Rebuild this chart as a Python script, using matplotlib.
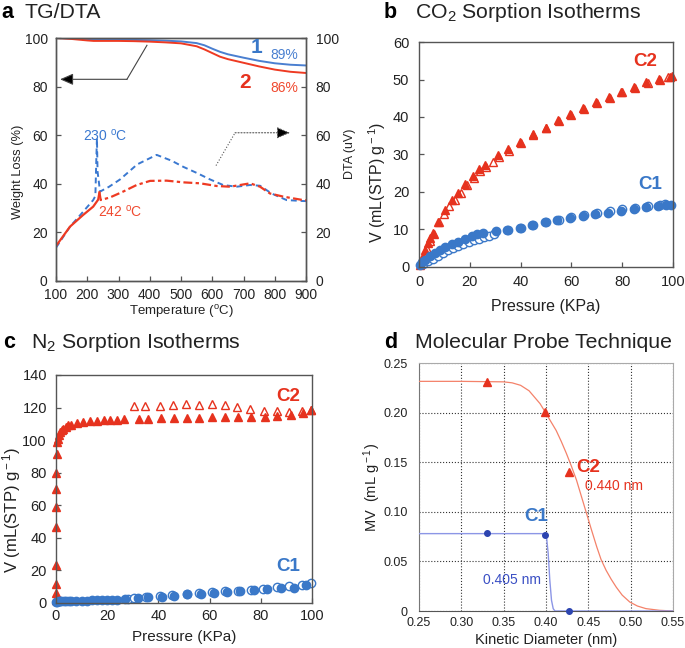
import matplotlib
matplotlib.use("Agg")
import matplotlib.pyplot as plt
import numpy as np

plt.rcParams['font.family'] = ['Liberation Sans', 'DejaVu Sans']
plt.rcParams['mathtext.fontset'] = 'custom'
plt.rcParams['mathtext.rm'] = 'Liberation Sans'
plt.rcParams['mathtext.it'] = 'Liberation Sans:italic'
plt.rcParams['mathtext.bf'] = 'Liberation Sans:bold'

# ---------------- Panel a: TG/DTA ----------------
tg_temp = [100, 150, 200, 220, 250, 300, 350, 400, 450, 500, 550, 575, 600, 625, 650, 700, 750, 800, 850, 900]
tg_1 = [100, 99.8, 99.6, 99.5, 99.4, 99.3, 99.2, 99.1, 98.9, 98.6, 97.9, 97.0, 95.6, 94.3, 93.3, 91.9, 90.6, 89.6, 89.0, 88.7]
tg_2 = [100, 99.6, 99.0, 98.8, 98.8, 98.8, 98.7, 98.5, 98.2, 97.8, 96.6, 95.3, 93.8, 92.3, 91.3, 89.8, 88.3, 87.0, 86.1, 85.6]

dta1_temp = [100, 145, 180, 219, 226, 229, 231, 233, 241, 270, 305, 360, 422, 470, 507, 550, 593, 635, 678, 721, 753, 790, 838, 891, 900]
dta1_val = [13.7, 22.4, 27.5, 33.3, 35, 50, 58.7, 45, 36.8, 38.8, 41.8, 48, 51.9, 49.5, 47, 44.5, 41.8, 39.5, 38.8, 39.5, 39.2, 36, 33.3, 32.9, 32.9]

dta2_temp_solid = [100, 145, 187, 219, 235, 239]
dta2_val_solid = [14.4, 22.4, 27.2, 30.6, 33.5, 36.5]
dta2_temp_dash = [239, 243, 273, 315, 358, 401, 454, 507, 561, 614, 657, 689, 721, 753, 785, 828, 891, 900]
dta2_val_dash = [36.5, 33.3, 34.4, 36.8, 39.5, 41.2, 41.3, 40.6, 40.2, 39.1, 38.8, 39.5, 40.2, 38.8, 36, 34.7, 33.3, 33.2]

# ---------------- Panel b: CO2 ----------------
co2_c2_ads_p = [0.3, 0.8, 1.7, 2.4, 3.4, 4.3, 5.6, 7.4, 10.2, 12.8, 15.5, 18.2, 21.2, 23.5, 26, 31.2, 35, 39.7, 44.7, 49.9, 54.8, 59.4, 64.6, 69.6, 74.8, 79.7, 84.5, 89.5, 94.4, 98.7, 99.8]
co2_c2_ads_v = [0.5, 1.2, 2.8, 4.5, 6.3, 7.6, 9.0, 12.1, 15.2, 17.8, 19.8, 22.0, 24.3, 26.0, 27.3, 29.8, 31.4, 33.3, 35.5, 37.1, 39.2, 40.8, 42.3, 43.9, 45.3, 46.8, 48.0, 49.2, 50.1, 50.6, 50.9]
co2_c2_des_p = [1.5, 3, 4.5, 6, 8, 10, 12, 14, 16.5, 19, 21.5, 24, 26.5, 29, 31.5, 35.5, 40, 45, 50, 55, 60, 65, 70, 75, 80, 85, 90, 95, 98]
co2_c2_des_v = [1.6, 4.7, 7.0, 8.9, 12.0, 14.2, 16.2, 17.9, 19.7, 21.8, 23.7, 25.5, 26.7, 27.9, 29.2, 30.8, 33.0, 35.3, 37.0, 39.0, 40.5, 42.2, 43.7, 45.1, 46.6, 47.8, 49.0, 50.0, 50.6]
co2_c1_ads_p = [0.3, 1.2, 2.4, 4.3, 6.3, 8.3, 10.2, 12.8, 15.5, 18, 20.7, 22.7, 25.3, 30.5, 34.5, 39.7, 44.3, 49.5, 54.4, 59.4, 64.4, 69.2, 74.4, 79.4, 84.5, 89.3, 94.1, 97.4, 99.3]
co2_c1_ads_v = [0.4, 1.2, 1.9, 2.8, 3.6, 4.5, 5.2, 6.0, 6.7, 7.5, 8.2, 8.7, 9.1, 9.5, 9.9, 10.3, 11.1, 11.9, 12.4, 13.0, 13.5, 14.0, 14.5, 14.9, 15.5, 15.9, 16.3, 16.4, 16.5]
co2_c1_des_p = [1.5, 3.5, 5.5, 7.5, 9.5, 11.5, 13.5, 15.5, 17.5, 19.5, 21.5, 23.5, 25.5, 27.5, 29.5, 35, 40, 45, 50, 55, 60, 65, 70, 75, 80, 85, 90, 95, 97]
co2_c1_des_v = [0.7, 1.5, 2.2, 3.0, 3.8, 4.5, 5.1, 5.7, 6.2, 6.7, 7.1, 7.5, 7.9, 8.3, 8.7, 9.8, 10.4, 11.3, 12.1, 12.6, 13.3, 13.8, 14.3, 14.8, 15.5, 15.8, 16.3, 16.6, 16.7]

# ---------------- Panel c: N2 ----------------
n2_c2_ads_p = [0, 0, 0, 0, 0, 0, 0, 0, 0.2, 0.4, 0.7, 1.1, 1.6, 2.2, 2.9, 3.8, 4.8, 6.0, 8.1, 10.7, 13.3, 16, 18.6, 21.2, 23.8, 26.7, 32.3, 35.8, 41, 46, 51, 56, 61, 66, 71, 76, 81.7, 86.5, 91.7, 96.6, 99.6]
n2_c2_ads_v = [2, 5.9, 11.7, 23.3, 46.9, 58.7, 70.2, 79.6, 91.5, 99, 101, 103, 105, 106, 107, 108, 109, 109.5, 110.7, 111.1, 111.5, 112, 112.4, 112.6, 112.6, 112.8, 112.8, 113.2, 113.4, 113.6, 113.8, 113.8, 114, 114.4, 114.4, 114.4, 114.4, 114.8, 115.4, 116.9, 118.5]
n2_c2_des_p = [30.6, 34.9, 40.8, 45.8, 50.6, 55.8, 60.8, 66, 70.8, 75.7, 81.3, 86.5, 91.1, 96, 99.6]
n2_c2_des_v = [121, 121, 121, 121.6, 122.2, 121.6, 122.2, 121.6, 120.6, 118.9, 118.1, 118.1, 117.5, 118.1, 118.5]
n2_c1_ads_p = [0, 0.5, 1, 1.5, 2, 3, 4, 5, 6, 8, 10, 12, 14, 16, 18, 20, 22, 24, 27, 32, 36, 41.4, 46, 51, 56.5, 61.7, 66.9, 72, 77.5, 82.5, 87.8, 93, 97.6]
n2_c1_ads_v = [0.5, 0.8, 1, 1, 1.1, 1.2, 1.2, 1.3, 1.3, 1.4, 1.5, 1.5, 1.6, 1.7, 1.8, 1.9, 2, 2.1, 2.3, 2.9, 3.6, 3.9, 4.6, 5.3, 5.3, 6.3, 6.7, 7.2, 7.8, 8.4, 9.4, 9.4, 11]
n2_c1_des_p = [28, 30.3, 35, 40.5, 45.5, 51, 56, 61, 66, 71, 76, 81, 86.5, 91, 96, 99.5]
n2_c1_des_v = [2.2, 2.9, 3.6, 4.3, 5.1, 5.6, 6.3, 6.9, 7.1, 7.6, 8.0, 8.8, 9.6, 10.2, 10.9, 12.0]

# ---------------- Panel d: molecular probe ----------------
probe_d = [0.33, 0.399, 0.427]
probe_c2 = [0.231, 0.2006, 0.140]
probe_c1 = [0.0786, 0.0763, 0.0]
fit_c2_x = [0.25, 0.30, 0.35, 0.36, 0.37, 0.38, 0.385, 0.393, 0.399, 0.405, 0.412, 0.418, 0.424, 0.43, 0.436, 0.442, 0.448, 0.454, 0.46, 0.465, 0.471, 0.477, 0.483, 0.49, 0.499, 0.508, 0.518, 0.534, 0.55]
fit_c2_y = [0.2315, 0.2315, 0.231, 0.230, 0.2275, 0.222, 0.217, 0.209, 0.2006, 0.192, 0.182, 0.171, 0.159, 0.146, 0.132, 0.115, 0.098, 0.081, 0.0645, 0.052, 0.041, 0.032, 0.024, 0.016, 0.009, 0.005, 0.0024, 0.0007, 0.0]
fit_c1_x = [0.25, 0.399, 0.4006, 0.4026, 0.4045, 0.4065, 0.4085, 0.4105, 0.55]
fit_c1_y = [0.078, 0.078, 0.0746, 0.0578, 0.031, 0.0108, 0.0024, 0.0, 0.0]

BLUE = '#3a78c8'
RED = '#e6321e'
TXT = '#222222'
SPINE = '#555555'

fig = plt.figure(figsize=(6.85, 6.48), dpi=100)
W, H = 685.0, 648.0

def box(x0, x1, y0, y1):
    return [x0 / W, 1 - y1 / H, (x1 - x0) / W, (y1 - y0) / H]

def style(ax, fs=10, xpad=5, ypad=6):
    for s in ax.spines.values():
        s.set_color(SPINE)
        s.set_linewidth(1.0)
    ax.tick_params(direction='in', length=3.5, width=0.9, color=SPINE, labelsize=fs, labelcolor=TXT)
    ax.tick_params(axis='x', pad=xpad)
    ax.tick_params(axis='y', pad=ypad)

def place_xlabel(ax, y_px):
    ax.xaxis.label.set_va('center')
    bb = ax.get_position()
    ax.xaxis.set_label_coords(bb.x0 + bb.width / 2, 1 - y_px / H, transform=fig.transFigure)

def place_ylabel(ax, x_px, y_px):
    ax.yaxis.label.set_va('center')
    ax.yaxis.label.set_ha('center')
    ax.yaxis.set_label_coords(x_px / W, 1 - y_px / H, transform=fig.transFigure)

# ---- a ----
ax = fig.add_axes(box(56, 306, 38, 281))
style(ax, fs=10)
ax.plot(tg_temp, tg_1, color='#4a7fd0', lw=1.4)
ax.plot(tg_temp, tg_2, color='#ee3a22', lw=1.4)
ax.set_xlim(100, 900)
ax.set_ylim(0, 100)
ax.set_xticks(range(100, 901, 100))
ax.set_yticks(range(0, 101, 20))
ax.set_xlabel('Temperature ($^{\\rm o}$C)', fontsize=9.5, color=TXT)
ax.set_ylabel('Weight Loss (%)', fontsize=9.3, color=TXT)
place_xlabel(ax, 312)
place_ylabel(ax, 18, 172)
ax2 = ax.twinx()
style(ax2, fs=10, ypad=7)
ax2.plot(dta1_temp, dta1_val, color='#3a78d0', lw=1.4, ls=(0, (3, 2)))
ax2.plot(dta2_temp_solid, dta2_val_solid, color='#ee3a22', lw=1.6)
ax2.plot(dta2_temp_dash, dta2_val_dash, color='#ee3a22', lw=1.6, ls=(0, (4, 1.5, 1.5, 1.5)))
ax2.set_ylim(0, 100)
ax2.set_yticks(range(0, 101, 20))
ax2.set_ylabel('DTA (uV)', fontsize=9, color=TXT)
place_ylabel(ax2, 350, 154)
ax2.text(743, 96, '1', color=BLUE, fontsize=15, fontweight='bold', ha='center', va='center')
ax2.text(785, 93, '89%', color='#4a80d0', fontsize=10, ha='left', va='center')
ax2.text(705, 81.5, '2', color=RED, fontsize=15, fontweight='bold', ha='center', va='center')
ax2.text(787, 79.5, '86%', color='#f04a30', fontsize=10, ha='left', va='center')
ax2.text(186, 60, '230 $^{\\rm o}$C', color='#3a78d0', fontsize=10, ha='left', va='center')
ax2.text(234, 28.5, '242 $^{\\rm o}$C', color='#f04a30', fontsize=10, ha='left', va='center')
# arrows
arrow_left = [(391, 97), (327, 83), (113, 83)]
ax2.plot([arrow_left[0][0], arrow_left[1][0]], [arrow_left[0][1], arrow_left[1][1]], color='#444444', lw=0.8)
ax2.annotate('', xy=arrow_left[2], xytext=arrow_left[1],
             arrowprops=dict(arrowstyle='-|>,head_length=0.8,head_width=0.35', color='#444444', lw=0.8, fc='black', shrinkA=0, shrinkB=0))
arrow_right = [(612, 47.5), (673, 61), (849, 61)]
ax2.plot([arrow_right[0][0], arrow_right[1][0]], [arrow_right[0][1], arrow_right[1][1]], color='#555555', lw=0.8, ls=':')
ax2.annotate('', xy=arrow_right[2], xytext=arrow_right[1],
             arrowprops=dict(arrowstyle='-|>,head_length=0.8,head_width=0.35', color='#555555', lw=0.8, ls=':', fc='black', shrinkA=0, shrinkB=0))

# ---- b ----
bx = fig.add_axes(box(419, 673, 42, 267))
style(bx, fs=10.5, xpad=5.5, ypad=7)
bx.plot(co2_c2_des_p, co2_c2_des_v, ls='none', marker='^', ms=6, mfc='white', mec=RED, mew=1.0, clip_on=False)
bx.plot(co2_c2_ads_p, co2_c2_ads_v, ls='none', marker='^', ms=6, color=RED, clip_on=False)
bx.plot(co2_c1_des_p, co2_c1_des_v, ls='none', marker='o', ms=6, mfc='white', mec=BLUE, mew=1.0, clip_on=False)
bx.plot(co2_c1_ads_p, co2_c1_ads_v, ls='none', marker='o', ms=6, color=BLUE, clip_on=False)
bx.set_xlim(0, 100)
bx.set_ylim(0, 60)
bx.set_xticks(range(0, 101, 20))
bx.set_yticks(range(0, 61, 10))
bx.set_xlabel('Pressure (KPa)', fontsize=11.5, color=TXT)
bx.set_ylabel('V (mL(STP) g$^{\\rm -1}$)', fontsize=11.5, color=TXT)
place_xlabel(bx, 307)
place_ylabel(bx, 377, 182)
bx.text(89, 54.7, 'C2', color=RED, fontsize=13.5, fontweight='bold', ha='center', va='center')
bx.text(91, 21.9, 'C1', color=BLUE, fontsize=13.5, fontweight='bold', ha='center', va='center')

# ---- c ----
cx = fig.add_axes(box(56, 312, 375, 603))
style(cx, fs=10.5, xpad=4.5, ypad=6.5)
cx.plot(n2_c2_des_p, n2_c2_des_v, ls='none', marker='^', ms=5.5, mfc='white', mec=RED, mew=1.0, clip_on=False)
cx.plot(n2_c2_ads_p, n2_c2_ads_v, ls='none', marker='^', ms=5.5, color=RED, clip_on=False)
cx.plot(n2_c1_des_p, n2_c1_des_v, ls='none', marker='o', ms=6, mfc='white', mec=BLUE, mew=1.0, clip_on=False)
cx.plot(n2_c1_ads_p, n2_c1_ads_v, ls='none', marker='o', ms=6, color=BLUE, clip_on=False)
cx.set_xlim(0, 100)
cx.set_ylim(0, 140)
cx.set_xticks(range(0, 101, 20))
cx.set_yticks(range(0, 141, 20))
cx.set_xlabel('Pressure (KPa)', fontsize=11, color=TXT)
cx.set_ylabel('V (mL(STP) g$^{\\rm -1}$)', fontsize=12, color=TXT)
place_xlabel(cx, 637)
place_ylabel(cx, 12, 510)
cx.text(90.7, 126.5, 'C2', color=RED, fontsize=13.5, fontweight='bold', ha='center', va='center')
cx.text(90.7, 22.7, 'C1', color=BLUE, fontsize=13.5, fontweight='bold', ha='center', va='center')

# ---- d ----
dx = fig.add_axes(box(419, 673, 363, 611))
dx.plot(fit_c2_x, fit_c2_y, color='#f4826a', lw=0.9, zorder=3)
dx.plot(fit_c1_x, fit_c1_y, color='#8c96e6', lw=1.0, zorder=3)
dx.plot(probe_d, probe_c2, ls='none', marker='^', ms=6, color=RED, zorder=4)
dx.plot(probe_d, probe_c1, ls='none', marker='o', ms=4, color='#2c44b0', zorder=4, clip_on=False)
dx.set_xlim(0.25, 0.55)
dx.set_ylim(0, 0.25)
dx.set_xticks([0.25, 0.30, 0.35, 0.40, 0.45, 0.50, 0.55])
dx.set_xticklabels(['0.25', '0.30', '0.35', '0.40', '0.45', '0.50', '0.55'])
dx.set_yticks([0, 0.05, 0.10, 0.15, 0.20, 0.25])
dx.set_yticklabels(['0', '0.05', '0.10', '0.15', '0.20', '0.25'])
dx.grid(True, ls=':', color='#333333', lw=0.8)
dx.tick_params(length=0, labelsize=9, labelcolor=TXT)
dx.tick_params(axis='x', pad=4)
dx.tick_params(axis='y', pad=8)
dx.spines['left'].set_color('#777777')
dx.spines['bottom'].set_color('#555555')
dx.spines['top'].set_color('#aaaaaa')
dx.spines['right'].set_color('#aaaaaa')
dx.set_xlabel('Kinetic Diameter (nm)', fontsize=10.5, color=TXT)
dx.set_ylabel('MV  (mL g$^{\\rm -1}$)', fontsize=10.5, color=TXT)
place_xlabel(dx, 640)
place_ylabel(dx, 372, 487)
dx.text(0.45, 0.145, 'C2', color=RED, fontsize=13.5, fontweight='bold', ha='center', va='center')
dx.text(0.446, 0.126, '0.440 nm', color=RED, fontsize=10, ha='left', va='center')
dx.text(0.389, 0.095, 'C1', color=BLUE, fontsize=13.5, fontweight='bold', ha='center', va='center')
dx.text(0.326, 0.0316, '0.405 nm', color='#3a4fc4', fontsize=10, ha='left', va='center')

# ---- panel titles ----
def title(x, y, letter, text, gap=24):
    fig.text(x / W, 1 - y / H, letter, fontsize=15.5, fontweight='bold', color='black', ha='left', va='center')
    fig.text((x + gap) / W, 1 - y / H, text, fontsize=15.3, color='#222222', ha='left', va='center')

title(1, 12, 'a', 'TG/DTA')
title(384, 12, 'b', 'CO$_2$ Sorption Isotherms', gap=31)
title(3, 342, 'c', 'N$_2$ Sorption Isotherms', gap=28)
title(384, 342, 'd', 'Molecular Probe Technique', gap=31)

fig.savefig('out.png', dpi=100)
